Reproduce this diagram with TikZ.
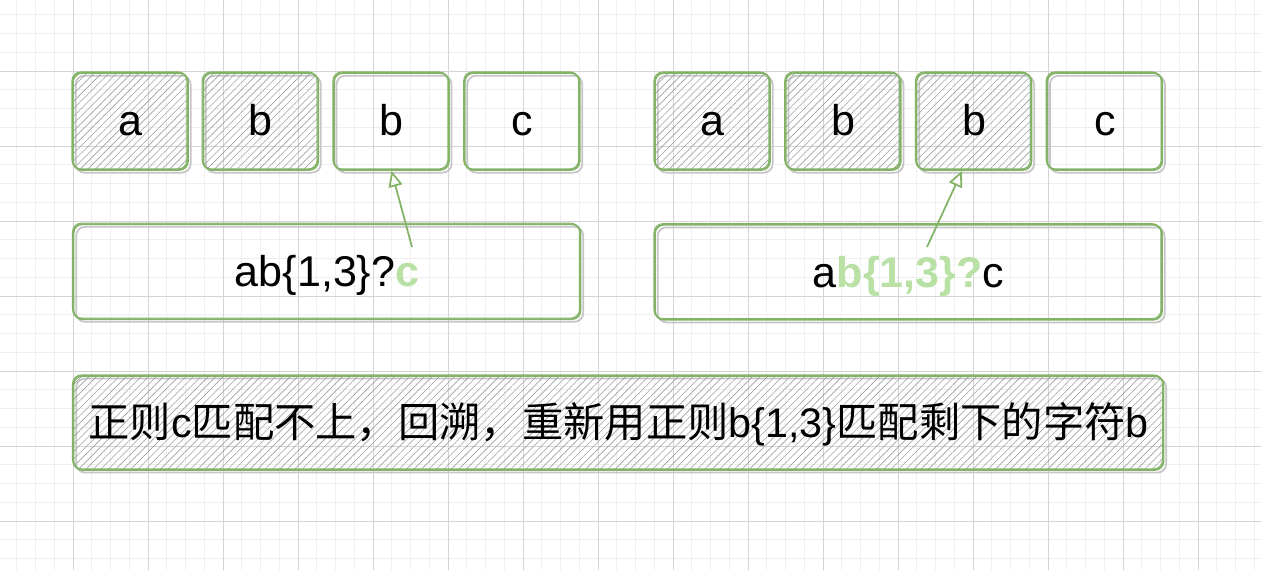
\documentclass[tikz,border=0pt]{standalone}
\usepackage{fontspec}
\setmainfont{Liberation Sans}
\newfontfamily\cjk{Noto Sans CJK SC}
\usetikzlibrary{positioning, arrows.meta, patterns.meta}
\definecolor{boxgreen}{HTML}{82B366}
\definecolor{hlgreen}{HTML}{B9E0A5}
\definecolor{hatchgray}{HTML}{9AA39A}
\definecolor{minorgrid}{HTML}{EFEFEF}
\definecolor{majorgrid}{HTML}{D4D4D4}

\begin{document}
\begin{tikzpicture}[>={Triangle[open,length=9pt,width=8pt]},node distance=0.28cm,
    sketch/.style={draw=boxgreen,line width=1pt,rounded corners=5pt,
      preaction={draw=gray!45,line width=1pt,transform canvas={xshift=1.5pt,yshift=-1.5pt}},
      postaction={draw=boxgreen,line width=0.6pt,transform canvas={xshift=-0.6pt,yshift=0.6pt}}},
    hatch/.style={pattern={Lines[angle=45,distance=3pt,line width=0.35pt]},pattern color=hatchgray},
    char node/.style={sketch,rectangle,minimum width=2.3cm,minimum height=1.94cm,
      text height=16pt,text depth=0pt,font=\fontsize{24.5}{29}\selectfont},
    mark node/.style={char node,hatch},
    pattern node/.style={sketch,rectangle,minimum width=10.14cm,minimum height=1.9cm,
      text height=17pt,text depth=0pt,font=\fontsize{24.5}{29}\selectfont},
    note node/.style={pattern node,hatch,minimum width=21.8cm,minimum height=1.88cm,font=\fontsize{23.5}{28}\selectfont}]

\useasboundingbox (0,0) rectangle (25.22,-11.4);
\foreach \x in {0,...,66} \draw[minorgrid,line width=0.5pt] ({0.335+0.375*\x},0) -- ++(0,-11.4);
\foreach \y in {0,...,29} \draw[minorgrid,line width=0.5pt] (0,{-0.295-0.375*\y}) -- ++(25.22,0);
\foreach \x in {0,...,15} \draw[majorgrid,line width=0.5pt] ({1.46+1.5*\x},0) -- ++(0,-11.4);
\foreach \y in {0,...,6} \draw[majorgrid,line width=0.5pt] (0,{-1.42-1.5*\y}) -- ++(25.22,0);

\node[mark node]               (lc1) at (2.61,-2.43) {a};
\node[mark node,right=of lc1]  (lc2) {b};
\node[char node,right=of lc2]  (lc3) {b};
\node[char node,right=of lc3]  (lc4) {c};

\node[mark node]               (rc1) at (14.25,-2.43) {a};
\node[mark node,right=of rc1]  (rc2) {b};
\node[mark node,right=of rc2]  (rc3) {b};
\node[char node,right=of rc3]  (rc4) {c};

\node[pattern node,below=1.06cm of lc1.south west,anchor=north west] (lpat)
  {ab\{1,3\}?\textcolor{hlgreen}{\textbf{c}}};
\node[pattern node,below=1.06cm of rc1.south west,anchor=north west] (rpat)
  {a\textcolor{hlgreen}{\textbf{b\{1,3\}?}}c};
\node[note node,below=1.1cm of lpat.south west,anchor=north west] (note)
  {{\cjk 正则}c{\cjk 匹配不上，回溯，重新用正则}b\{1,3\}{\cjk 匹配剩下的字符}b};

\coordinate (lsrc) at (8.24,-4.94);
\coordinate (rsrc) at (18.54,-4.94);
\draw[->,boxgreen,line width=1pt] (lsrc) -- (lc3.south);
\draw[->,boxgreen,line width=1pt] (rsrc) -- ([xshift=-0.24cm]rc3.south);
\end{tikzpicture}
\end{document}
